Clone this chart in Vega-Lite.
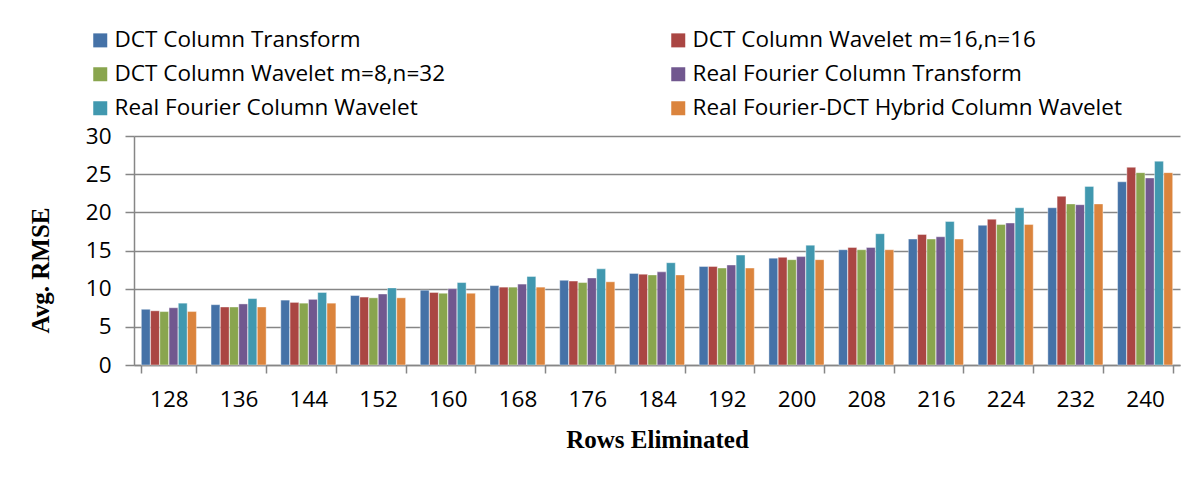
{
  "$schema": "https://vega.github.io/schema/vega-lite/v6.json",
  "autosize": {"type": "none"},
  "padding": {"left": 134, "top": 136, "right": 24, "bottom": 118},
  "width": 1046,
  "height": 229,
  "background": "white",
  "config": {"view": {"stroke": null}},
  "datasets": {
    "raw": [
      {"rows": "128", "s1": 7.3, "s2": 7.1, "s3": 7.0, "s4": 7.5, "s5": 8.1, "s6": 7.0},
      {"rows": "136", "s1": 7.9, "s2": 7.6, "s3": 7.6, "s4": 8.0, "s5": 8.7, "s6": 7.6},
      {"rows": "144", "s1": 8.5, "s2": 8.2, "s3": 8.1, "s4": 8.6, "s5": 9.5, "s6": 8.1},
      {"rows": "152", "s1": 9.1, "s2": 8.9, "s3": 8.8, "s4": 9.3, "s5": 10.1, "s6": 8.8},
      {"rows": "160", "s1": 9.8, "s2": 9.5, "s3": 9.4, "s4": 10.0, "s5": 10.8, "s6": 9.4},
      {"rows": "168", "s1": 10.4, "s2": 10.2, "s3": 10.2, "s4": 10.6, "s5": 11.6, "s6": 10.2},
      {"rows": "176", "s1": 11.1, "s2": 11.0, "s3": 10.8, "s4": 11.4, "s5": 12.6, "s6": 10.9},
      {"rows": "184", "s1": 12.0, "s2": 11.9, "s3": 11.8, "s4": 12.2, "s5": 13.4, "s6": 11.8},
      {"rows": "192", "s1": 12.9, "s2": 12.9, "s3": 12.7, "s4": 13.1, "s5": 14.4, "s6": 12.7},
      {"rows": "200", "s1": 14.0, "s2": 14.1, "s3": 13.8, "s4": 14.2, "s5": 15.7, "s6": 13.8},
      {"rows": "208", "s1": 15.1, "s2": 15.4, "s3": 15.1, "s4": 15.4, "s5": 17.2, "s6": 15.1},
      {"rows": "216", "s1": 16.5, "s2": 17.1, "s3": 16.5, "s4": 16.8, "s5": 18.8, "s6": 16.5},
      {"rows": "224", "s1": 18.3, "s2": 19.1, "s3": 18.4, "s4": 18.6, "s5": 20.6, "s6": 18.4},
      {"rows": "232", "s1": 20.6, "s2": 22.1, "s3": 21.1, "s4": 21.0, "s5": 23.4, "s6": 21.1},
      {"rows": "240", "s1": 24.0, "s2": 25.9, "s3": 25.2, "s4": 24.5, "s5": 26.7, "s6": 25.2}
    ]
  },
  "data": {"name": "raw"},
  "transform": [
    {"fold": ["s1", "s2", "s3", "s4", "s5", "s6"], "as": ["key", "rmse"]},
    {"lookup": "key", "from": {"data": {"values": [
      {"key": "s1", "series": "DCT Column Transform"},
      {"key": "s2", "series": "DCT Column Wavelet m=16,n=16"},
      {"key": "s3", "series": "DCT Column Wavelet m=8,n=32"},
      {"key": "s4", "series": "Real Fourier Column Transform"},
      {"key": "s5", "series": "Real Fourier Column Wavelet"},
      {"key": "s6", "series": "Real Fourier-DCT Hybrid Column Wavelet"}
    ]}, "key": "key", "fields": ["series"]}}
  ],
  "mark": {"type": "bar", "stroke": "white", "strokeOpacity": 0.5, "strokeWidth": 0.8},
  "encoding": {
    "x": {
      "field": "rows", "type": "nominal", "sort": null,
      "scale": {"paddingInner": 0.21, "paddingOuter": 0.105},
      "axis": {
        "title": "Rows Eliminated",
        "titleFont": "Liberation Serif", "titleFontWeight": "bold", "titleFontSize": 25, "titleColor": "black",
        "titlePadding": 17,
        "labelFont": "Open Sans", "labelFontSize": 22.5, "labelColor": "black", "labelPadding": 15, "labelAngle": 0,
        "domainColor": "#868686", "domainWidth": 1.5,
        "tickColor": "#868686", "tickWidth": 1.5, "tickSize": 8, "tickBand": "extent",
        "grid": false
      }
    },
    "xOffset": {"field": "series", "type": "nominal", "sort": null, "scale": {"paddingInner": 0.04}},
    "y": {
      "field": "rmse", "type": "quantitative",
      "scale": {"domain": [0, 30], "nice": false},
      "axis": {
        "title": "Avg. RMSE",
        "titleFont": "Liberation Serif", "titleFontWeight": "bold", "titleFontSize": 25, "titleColor": "black",
        "titleX": -81, "titleY": 134,
        "values": [0, 5, 10, 15, 20, 25, 30],
        "labelFont": "Open Sans", "labelFontSize": 22.5, "labelColor": "black", "labelPadding": 14,
        "domainColor": "#868686", "domainWidth": 1.5,
        "tickColor": "#868686", "tickWidth": 1.5, "tickSize": 9,
        "grid": true, "gridColor": "#868686", "gridWidth": 1.5
      }
    },
    "color": {
      "field": "series", "type": "nominal",
      "scale": {
        "domain": ["DCT Column Transform", "DCT Column Wavelet m=16,n=16", "DCT Column Wavelet m=8,n=32", "Real Fourier Column Transform", "Real Fourier Column Wavelet", "Real Fourier-DCT Hybrid Column Wavelet"],
        "range": ["#4572A7", "#AA4643", "#89A54E", "#71588F", "#4198AF", "#DB843D"]
      },
      "legend": {
        "title": null, "orient": "none", "legendX": -45, "legendY": -107,
        "values": ["DCT Column Transform", "DCT Column Wavelet m=8,n=32", "Real Fourier Column Wavelet", "DCT Column Wavelet m=16,n=16", "Real Fourier Column Transform", "Real Fourier-DCT Hybrid Column Wavelet"],
        "columns": 2, "columnPadding": 221, "rowPadding": 11,
        "symbolType": "square", "symbolSize": 196, "symbolStrokeWidth": 0, "symbolOffset": 0,
        "labelFont": "Open Sans", "labelFontSize": 22.5, "labelColor": "black", "labelOffset": 3, "labelLimit": 600
      }
    }
  }
}
